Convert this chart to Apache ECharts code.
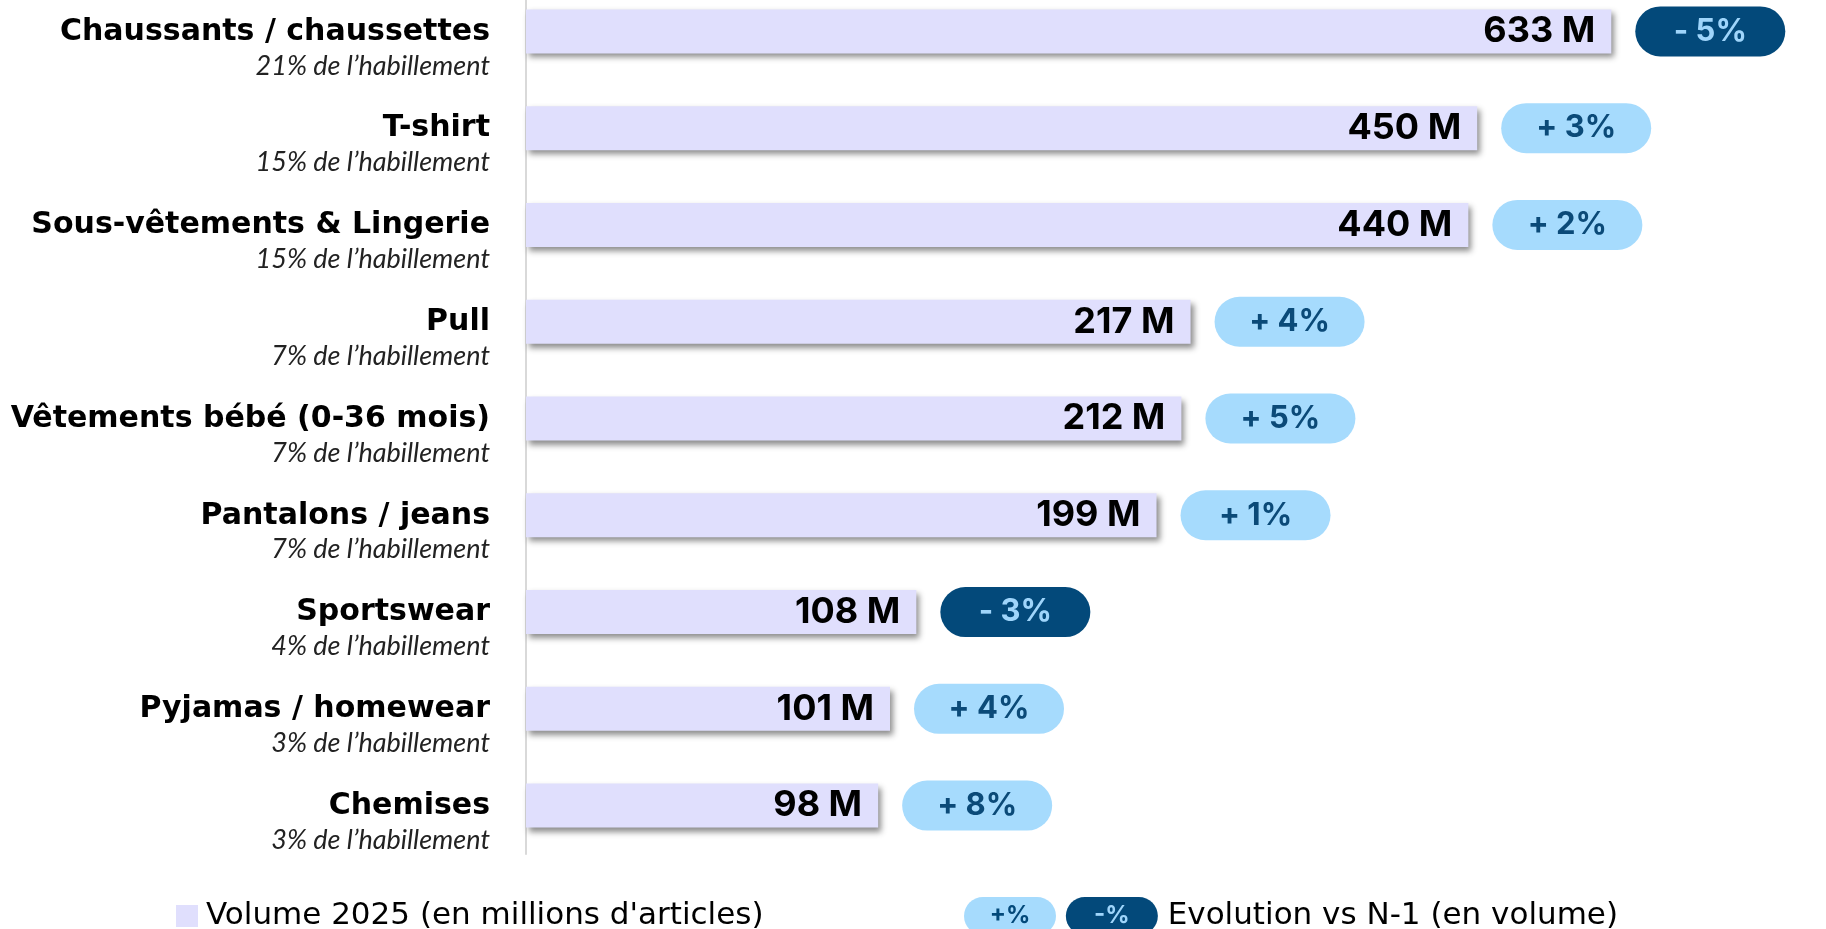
<!DOCTYPE html>
<html>
<head>
<meta charset="utf-8">
<script src="https://cdn.jsdelivr.net/npm/echarts@6/dist/echarts.min.js"></script>
<style>
  html, body { margin: 0; padding: 0; background: #fff; }
  #chart { width: 1826px; height: 929px; }
</style>
</head>
<body>
<div id="chart"></div>
<script>
// categories, top to bottom
const categories = [
  'Chaussants / chaussettes',
  'T-shirt',
  'Sous-vêtements & Lingerie',
  'Pull',
  'Vêtements bébé (0-36 mois)',
  'Pantalons / jeans',
  'Sportswear',
  'Pyjamas / homewear',
  'Chemises'
];
const shares = ['21%', '15%', '15%', '7%', '7%', '7%', '4%', '3%', '3%'];
// volume 2025, millions d'articles
const volumes = [633, 450, 440, 217, 212, 199, 108, 101, 98];
// evolution vs N-1, %
const evolution = [-5, 3, 2, 4, 5, 1, -3, 4, 8];

const volumeName = "Volume 2025 (en millions d'articles)";
const evoName = 'Evolution vs N-1 (en volume)';

const lavender = '#e0dffd';
const lightBlue = '#a6dbfd';
const darkBlue = '#03497a';

var chartDom = document.getElementById('chart');
var myChart = echarts.init(chartDom);

var option = {
  animation: false,
  backgroundColor: '#fff',
  grid: {
    left: 526,
    right: 35,
    top: -17,
    bottom: 75,
    outerBoundsMode: 'none'
  },
  legend: [
    {
      data: [volumeName],
      left: 176,
      top: 898,
      padding: 0,
      icon: 'rect',
      itemWidth: 22,
      itemHeight: 22,
      itemStyle: { shadowBlur: 0, shadowOffsetX: 0, shadowOffsetY: 0 },
      textStyle: {
        fontFamily: 'DejaVu Sans',
        fontSize: 31,
        color: '#000',
        lineHeight: 36,
        padding: [0, 0, 0, 3]
      },
      selectedMode: false
    },
    {
      data: [{ name: evoName, icon: 'none' }],
      left: 959,
      top: 897,
      padding: 0,
      itemWidth: 0,
      itemHeight: 0,
      formatter: function (name) {
        return '{p|+%} {n|-%} ' + name;
      },
      textStyle: {
        fontFamily: 'DejaVu Sans',
        fontSize: 31,
        color: '#000',
        lineHeight: 38,
        rich: {
          p: {
            backgroundColor: lightBlue,
            color: darkBlue,
            fontFamily: 'Inter',
            fontWeight: 'bold',
            fontSize: 24,
            width: 92,
            height: 38,
            lineHeight: 38,
            align: 'center',
            borderRadius: 19
          },
          n: {
            backgroundColor: darkBlue,
            color: '#9fd5fb',
            fontFamily: 'Inter',
            fontWeight: 'bold',
            fontSize: 24,
            width: 92,
            height: 38,
            lineHeight: 38,
            align: 'center',
            borderRadius: 19
          }
        }
      },
      selectedMode: false
    }
  ],
  xAxis: {
    type: 'log',
    logBase: 10,
    min: 40,
    max: 1000,
    startValue: 40,
    show: false
  },
  yAxis: {
    type: 'category',
    inverse: true,
    data: categories,
    axisTick: { show: false },
    axisLine: {
      show: true,
      lineStyle: { color: '#d9d9d9', width: 2 }
    },
    axisLabel: {
      margin: 36,
      align: 'right',
      padding: [35, 0, 0, 0],
      formatter: function (value, index) {
        return '{n|' + value + '}\n{s|' + shares[index] + ' de l\u2019habillement}';
      },
      rich: {
        n: {
          fontFamily: 'DejaVu Sans',
          fontWeight: 'bold',
          fontSize: 30,
          color: '#000',
          lineHeight: 34,
          align: 'right'
        },
        s: {
          fontFamily: 'Lato',
          fontStyle: 'italic',
          fontWeight: 'normal',
          fontSize: 27,
          color: '#222',
          lineHeight: 34,
          align: 'right'
        }
      }
    }
  },
  series: [
    {
      name: volumeName,
      type: 'bar',
      data: volumes,
      barWidth: 44,
      itemStyle: {
        color: lavender,
        shadowColor: 'rgba(0,0,0,0.45)',
        shadowBlur: 6,
        shadowOffsetX: 3,
        shadowOffsetY: 4
      },
      label: {
        show: true,
        position: 'insideRight',
        distance: 16,
        formatter: function (p) { return p.value + ' M'; },
        fontFamily: 'Inter',
        fontWeight: 'bold',
        fontSize: 36,
        color: '#000'
      }
    },
    {
      name: evoName,
      type: 'bar',
      data: volumes,
      barWidth: 44,
      barGap: '-100%',
      silent: true,
      itemStyle: { color: 'rgba(0,0,0,0)' },
      label: {
        show: true,
        position: 'right',
        distance: 24,
        formatter: function (p) {
          let e = evolution[p.dataIndex];
          return e < 0 ? '{neg|- ' + Math.abs(e) + '%}' : '{pos|+ ' + e + '%}';
        },
        rich: {
          pos: {
            backgroundColor: lightBlue,
            color: '#0b4a78',
            fontFamily: 'Inter',
            fontWeight: 'bold',
            fontSize: 31,
            width: 150,
            height: 50,
            lineHeight: 50,
            align: 'center',
            borderRadius: 25
          },
          neg: {
            backgroundColor: darkBlue,
            color: '#9fd5fb',
            fontFamily: 'Inter',
            fontWeight: 'bold',
            fontSize: 31,
            width: 150,
            height: 50,
            lineHeight: 50,
            align: 'center',
            borderRadius: 25
          }
        }
      }
    }
  ]
};

option && myChart.setOption(option);
</script>
</body>
</html>
